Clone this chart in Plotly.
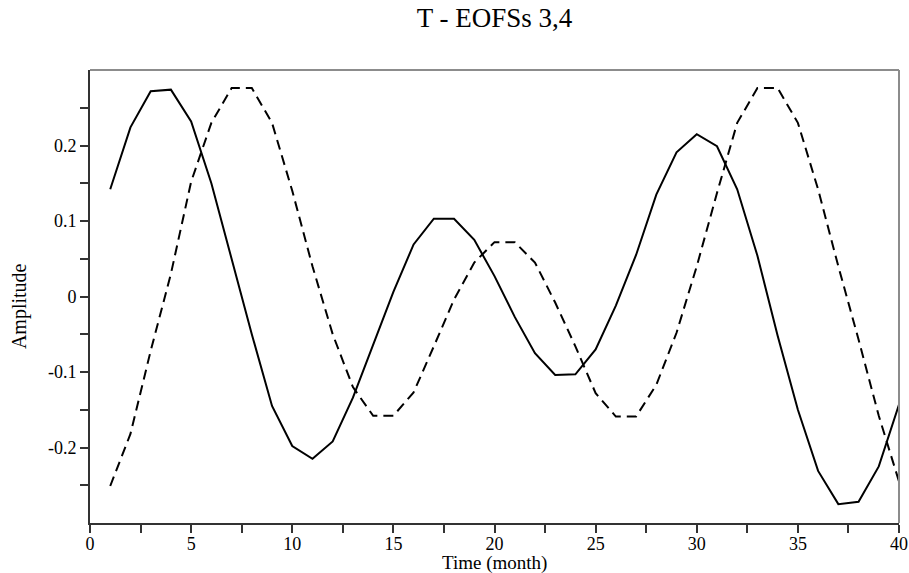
import plotly.graph_objects as go

# Monthly amplitudes of the two temperature EOF modes
months = list(range(1, 41))
eof3 = [0.142, 0.224, 0.272, 0.274, 0.232, 0.150, 0.050, -0.050, -0.145, -0.198,
        -0.215, -0.192, -0.134, -0.064, 0.006, 0.069, 0.103, 0.103, 0.075, 0.027,
        -0.027, -0.075, -0.104, -0.103, -0.070, -0.012, 0.055, 0.135, 0.191, 0.215,
        0.199, 0.142, 0.054, -0.052, -0.150, -0.231, -0.275, -0.272, -0.225, -0.143]
eof4 = [-0.251, -0.182, -0.072, 0.030, 0.152, 0.230, 0.276, 0.276, 0.230, 0.140,
        0.040, -0.050, -0.120, -0.158, -0.158, -0.127, -0.066, -0.004, 0.045, 0.072,
        0.072, 0.045, -0.008, -0.066, -0.128, -0.159, -0.159, -0.117, -0.048, 0.040,
        0.137, 0.230, 0.276, 0.276, 0.230, 0.142, 0.040, -0.057, -0.158, -0.245]

x_tickvals = [0, 2.5, 5, 7.5, 10, 12.5, 15, 17.5, 20, 22.5, 25, 27.5, 30, 32.5, 35, 37.5, 40]
x_ticktext = ["0", "", "5", "", "10", "", "15", "", "20", "", "25", "", "30", "", "35", "", "40"]
y_tickvals = [-0.25, -0.2, -0.15, -0.1, -0.05, 0, 0.05, 0.1, 0.15, 0.2, 0.25]
y_ticktext = ["", "-0.2", "", "-0.1", "", "0", "", "0.1", "", "0.2", ""]

FONT = "Liberation Serif, Times New Roman, serif"

fig = go.Figure()
fig.add_trace(go.Scatter(x=months, y=eof3, mode="lines",
                         line=dict(color="black", width=2), showlegend=False))
fig.add_trace(go.Scatter(x=months, y=eof4, mode="lines",
                         line=dict(color="black", width=2, dash="10px,6px"),
                         showlegend=False))

axis_common = dict(showgrid=False, zeroline=False, ticks="outside", ticklen=8,
                   tickwidth=1.5, tickcolor="#333", showline=True, linecolor="#333",
                   linewidth=2, automargin=False,
                   tickfont=dict(family=FONT, size=18, color="black"))

fig.update_xaxes(range=[0, 40], tickmode="array", tickvals=x_tickvals,
                 ticktext=x_ticktext, ticklabelstandoff=-5, **axis_common)
fig.update_yaxes(range=[-0.3, 0.3], tickmode="array", tickvals=y_tickvals,
                 ticktext=y_ticktext, **axis_common)

# Lighter top and right frame edges
fig.add_shape(type="line", xref="paper", yref="paper", x0=0, x1=1, y0=1, y1=1,
              line=dict(color="#8c8c8c", width=2))
fig.add_shape(type="line", xref="paper", yref="paper", x0=1, x1=1, y0=0, y1=1,
              line=dict(color="#8c8c8c", width=2))

fig.add_annotation(text="Amplitude", xref="paper", yref="paper", x=-0.087, y=0.478,
                   textangle=-90, showarrow=False, xanchor="center", yanchor="middle",
                   font=dict(family=FONT, size=20, color="black"))
fig.add_annotation(text="Time (month)", xref="paper", yref="paper", x=0.5, y=-0.089,
                   showarrow=False, xanchor="center", yanchor="middle",
                   font=dict(family=FONT, size=19, color="black"))

fig.update_layout(
    width=909, height=573, autosize=False,
    margin=dict(l=90, r=10, t=70, b=50, autoexpand=False),
    paper_bgcolor="white", plot_bgcolor="white",
    title=dict(text="T - EOFSs 3,4", x=0.5, xref="paper", y=1 - 18 / 573,
               yref="container", xanchor="center", yanchor="middle",
               font=dict(family=FONT, size=27, color="black")),
)

fig.write_html("out.html")
